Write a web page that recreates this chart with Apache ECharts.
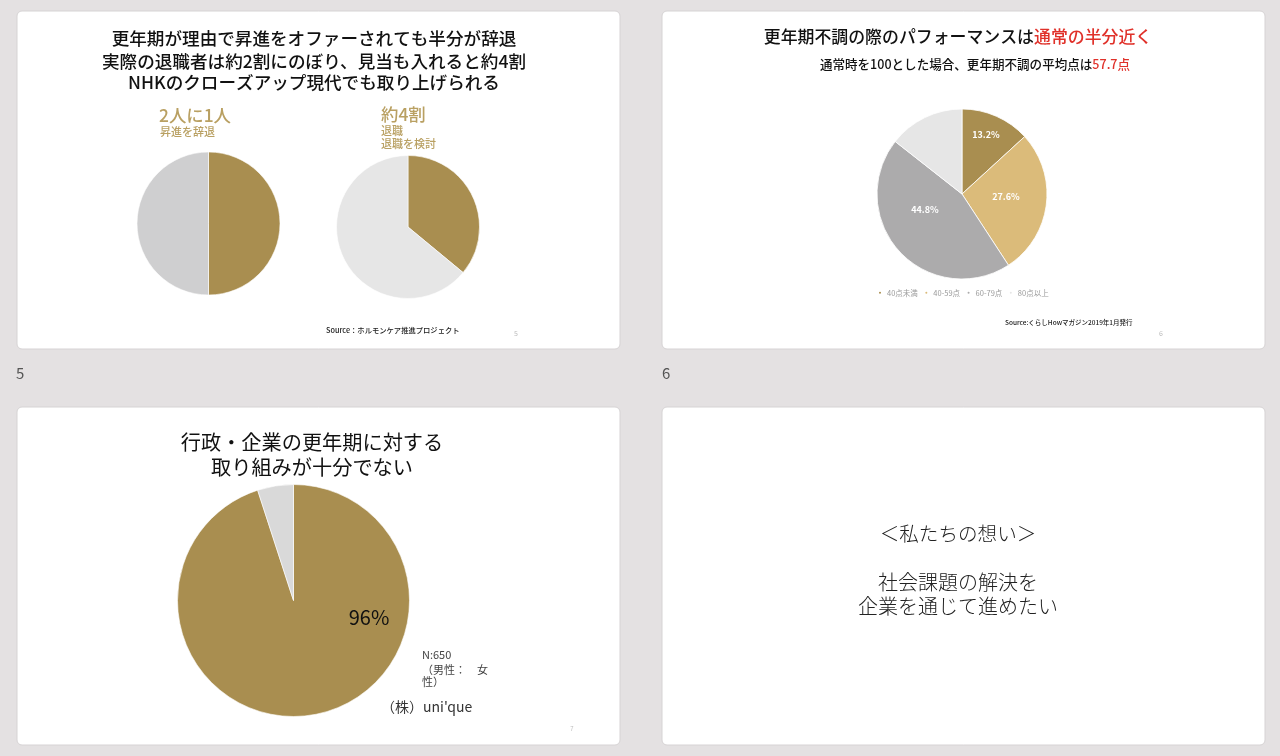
<!DOCTYPE html>
<html>
<head>
<meta charset="utf-8">
<style>
html, body { margin: 0; padding: 0; background: #e4e1e2; }
#main { width: 1280px; height: 756px; }
</style>
<script src="https://cdn.jsdelivr.net/npm/echarts@6/dist/echarts.min.js"></script>
</head>
<body>
<div id="main"></div>
<script>
// data
const promotionNames = ['昇進を辞退', 'その他(昇進)'];
const promotionValues = [50, 50];
const retireNames = ['退職・検討', 'その他(退職)'];
const retireValues = [36, 64];
const scoreNames = ['40点未満', '40-59点', '60-79点', '80点以上'];
const scoreValues = [13.2, 27.6, 44.8, 14.4];
const effortNames = ['十分でない', 'その他(取り組み)'];
const effortValues = [95, 5];
const effortLabel = '96%';

const title5 = ['更年期が理由で昇進をオファーされても半分が辞退', '実際の退職者は約2割にのぼり、見当も入れると約4割', 'NHKのクローズアップ現代でも取り上げられる'];
const title7 = ['行政・企業の更年期に対する', '取り組みが十分でない'];
const message8 = ['＜私たちの想い＞', '社会課題の解決を', '企業を通じて進めたい'];

const FONT = '"Noto Sans CJK JP", "Noto Sans", sans-serif';
const GOLD = '#a98e50';
const LABEL_GOLD = '#b9a062';

function toRows(names, values, colors) {
    return names.map((n, i) => ({ name: n, value: values[i], itemStyle: { color: colors[i] } }));
}

function panel(x, y) {
    return {
        type: 'rect', z: 0,
        shape: { x: x, y: y, width: 603, height: 338, r: 5 },
        style: { fill: '#fff', stroke: '#d6d3d4', lineWidth: 1 }
    };
}

function txt(x, y, text, size, color, weight, align) {
    return {
        type: 'text', z: 5, x: x, y: y,
        style: {
            text: text, fontSize: size, fontFamily: FONT,
            fill: color || '#111', fontWeight: weight || 'normal',
            align: align || 'left', verticalAlign: 'middle'
        }
    };
}

const graphics = [
    panel(17, 11), panel(662, 11), panel(17, 407), panel(662, 407),

    txt(314, 38, title5[0], 17.6, '#111', 500, 'center'),
    txt(314, 61, title5[1], 17.6, '#111', 500, 'center'),
    txt(314, 82, title5[2], 17.6, '#111', 500, 'center'),
    txt(159, 115, '2人に1人', 17.4, LABEL_GOLD, 500),
    txt(160, 132, '昇進を辞退', 11, LABEL_GOLD, 500),
    txt(381, 114, '約4割', 17.4, LABEL_GOLD, 500),
    txt(381, 131, '退職', 11, LABEL_GOLD, 500),
    txt(381, 144, '退職を検討', 11, LABEL_GOLD, 500),
    txt(326, 330, 'Source：ホルモンケア推進プロジェクト', 7.3, '#222', 500),
    txt(516, 333, '5', 7, '#bbb', 'normal', 'center'),
    txt(16, 373, '5', 15, '#555'),

    {
        type: 'text', z: 5, x: 958, y: 37,
        style: {
            text: '{b|更年期不調の際のパフォーマンスは}{r|通常の半分近く}',
            align: 'center', verticalAlign: 'middle',
            rich: {
                b: { fontSize: 16.9, fontFamily: FONT, fontWeight: 500, fill: '#111' },
                r: { fontSize: 16.9, fontFamily: FONT, fontWeight: 500, fill: '#e0312a' }
            }
        }
    },
    {
        type: 'text', z: 5, x: 975, y: 64,
        style: {
            text: '{b|通常時を100とした場合、更年期不調の平均点は}{r|57.7点}',
            align: 'center', verticalAlign: 'middle',
            rich: {
                b: { fontSize: 12.55, fontFamily: FONT, fontWeight: 500, fill: '#111' },
                r: { fontSize: 12.55, fontFamily: FONT, fontWeight: 500, fill: '#e0312a' }
            }
        }
    },
    txt(1005, 323, 'Source:くらしHowマガジン2019年1月発行', 6.5, '#222', 500),
    txt(1161, 333, '6', 7, '#bbb', 'normal', 'center'),
    txt(662, 373, '6', 15, '#555'),

    txt(312, 442, title7[0], 20.2, '#111', 'normal', 'center'),
    txt(312, 467, title7[1], 20.2, '#111', 'normal', 'center'),
    txt(422, 655, 'N:650', 11, '#444'),
    txt(422, 670, '（男性：　女', 11, '#444'),
    txt(422, 682, '性）', 11, '#444'),
    txt(381, 707, '（株）uni\'que', 14, '#333'),
    txt(572, 729, '7', 6, '#bbb', 'normal', 'center'),

    txt(958, 534, message8[0], 19.6, '#222', 300, 'center'),
    txt(958, 582, message8[1], 20, '#222', 300, 'center'),
    txt(958, 606, message8[2], 20, '#222', 300, 'center')
];

const scoreLabelPos = [[986, 135], [1006, 197], [925, 210]];

const chart = echarts.init(document.getElementById('main'), null, { renderer: 'canvas' });
chart.setOption({
    animation: false,
    backgroundColor: '#e4e1e2',
    textStyle: { fontFamily: FONT },
    graphic: graphics,
    legend: {
        data: scoreNames,
        left: 877, top: 289, padding: 0,
        icon: 'circle', itemWidth: 4, itemHeight: 4, itemGap: 5.5,
        selectedMode: false,
        textStyle: { fontSize: 7.5, color: '#9a9a9a', fontFamily: FONT }
    },
    series: [
        {
            type: 'pie', z: 3, center: [208.5, 223.5], radius: 71.5, silent: true,
            data: toRows(promotionNames, promotionValues, [GOLD, '#cfcfd0']),
            label: { show: false }, labelLine: { show: false },
            itemStyle: { borderColor: '#fff', borderWidth: 0.6 }
        },
        {
            type: 'pie', z: 3, center: [408, 227], radius: 71.5, silent: true,
            data: toRows(retireNames, retireValues, [GOLD, '#e6e6e6']),
            label: { show: false }, labelLine: { show: false },
            itemStyle: { borderColor: '#fff', borderWidth: 0.6 }
        },
        {
            type: 'pie', z: 3, center: [962, 194], radius: 85, silent: true,
            data: toRows(scoreNames, scoreValues, [GOLD, '#dbbb7a', '#acabac', '#e6e6e6']),
            itemStyle: { borderColor: '#fff', borderWidth: 0.8 },
            label: {
                position: 'inside', color: '#fff', fontSize: 9, fontWeight: 'bold',
                formatter: p => p.dataIndex < 3 ? p.value.toFixed(1) + '%' : ''
            },
            labelLine: { show: false },
            labelLayout: p => {
                const q = scoreLabelPos[p.dataIndex];
                return q ? { x: q[0], y: q[1], align: 'center', verticalAlign: 'middle' } : {};
            }
        },
        {
            type: 'pie', z: 3, center: [293.5, 600.5], radius: 116, silent: true,
            data: toRows(effortNames, effortValues, [GOLD, '#d9d9d9']),
            itemStyle: { borderColor: '#fff', borderWidth: 0.6 },
            label: {
                position: 'inside', color: '#111', fontSize: 20,
                formatter: p => p.dataIndex === 0 ? effortLabel : ''
            },
            labelLine: { show: false },
            labelLayout: p => p.dataIndex === 0 ? { x: 369, y: 617, align: 'center', verticalAlign: 'middle' } : {}
        }
    ]
});
</script>
</body>
</html>
